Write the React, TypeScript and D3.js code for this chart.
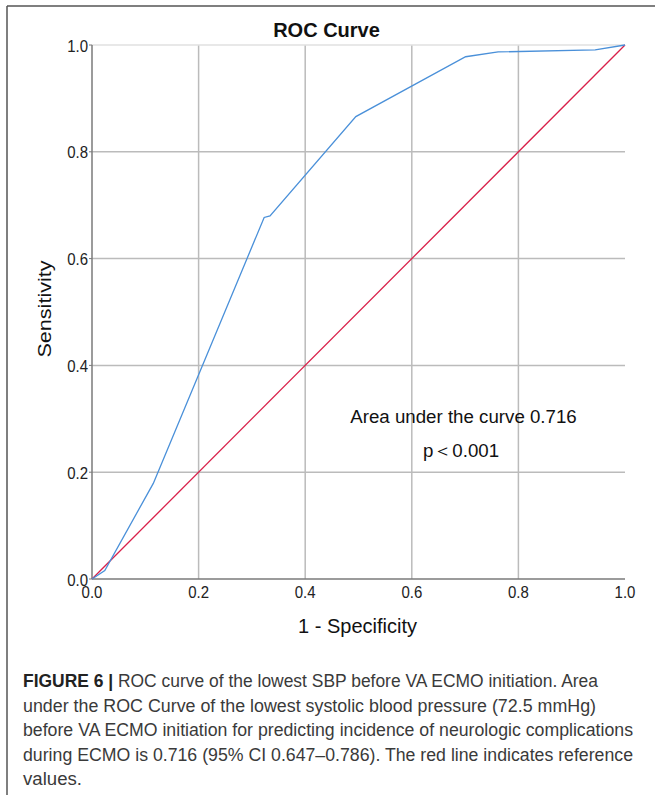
import React from "react";
import * as d3 from "d3";

// ROC curve points (1 - specificity, sensitivity)
const specificityComp = [0, 0.024, 0.115, 0.323, 0.334, 0.495, 0.701, 0.762, 0.944, 1];
const sensitivity = [0, 0.016, 0.179, 0.677, 0.68, 0.866, 0.978, 0.987, 0.991, 1];
const referenceLine = [0, 1];
const tickValues = [0, 0.2, 0.4, 0.6, 0.8, 1.0];
const tickLabels = ["0.0", "0.2", "0.4", "0.6", "0.8", "1.0"];

const captionLines = [
  "ROC curve of the lowest SBP before VA ECMO initiation. Area",
  "under the ROC Curve of the lowest systolic blood pressure (72.5 mmHg)",
  "before VA ECMO initiation for predicting incidence of neurologic complications",
  "during ECMO is 0.716 (95% CI 0.647\u20130.786). The red line indicates reference",
  "values.",
];
const captionEnds = [598, 596, 633, 633, 82];

const font = "'Liberation Sans', Arial, sans-serif";

const App = () => {
  // Plot area
  const left = 92;
  const right = 625;
  const top = 45;
  const bottom = 579;

  const x = d3.scaleLinear().domain([0, 1]).range([left, right]);
  const y = d3.scaleLinear().domain([0, 1]).range([bottom, top]);

  const rocPoints: [number, number][] = specificityComp.map((v, i) => [v, sensitivity[i]]);
  const refPoints: [number, number][] = referenceLine.map((v) => [v, v]);

  const line = d3
    .line<[number, number]>()
    .x((d) => x(d[0]))
    .y((d) => y(d[1]));

  const captionX = 23;
  const captionY0 = 687;
  const captionStep = 24.5;

  return (
    <svg
      width={655}
      height={795}
      style={{ position: "absolute", left: 0, top: 0, background: "#fff" }}
      fontFamily={font}
    >
      {/* figure frame (top + left) */}
      <line x1={7} x2={655} y1={6} y2={6} stroke="#555" strokeWidth={1.5} />
      <line x1={7} x2={7} y1={6} y2={795} stroke="#555" strokeWidth={1.5} />

      {/* title */}
      <text x={326.5} y={37} textAnchor="middle" fontSize={20} fontWeight="bold" fill="#111">
        ROC Curve
      </text>

      {/* gridlines */}
      {tickValues.slice(1, -1).map((t) => (
        <line key={"gx" + t} x1={x(t)} x2={x(t)} y1={top} y2={bottom} stroke="#bbb" strokeWidth={1.5} />
      ))}
      {tickValues.slice(1).map((t) => (
        <line
          key={"gy" + t}
          x1={left}
          x2={right}
          y1={y(t)}
          y2={y(t)}
          stroke={t === 1 ? "#e0e0e0" : "#bbb"}
          strokeWidth={1.5}
        />
      ))}

      {/* axes */}
      <line x1={left} x2={left} y1={top} y2={bottom} stroke="#7a7a7a" strokeWidth={1.5} />
      <line x1={left} x2={right} y1={bottom} y2={bottom} stroke="#7a7a7a" strokeWidth={1.5} />
      {tickValues.map((t) => (
        <line key={"ty" + t} x1={left - 3} x2={left} y1={y(t)} y2={y(t)} stroke="#7a7a7a" strokeWidth={1} />
      ))}

      {/* y tick labels */}
      {tickValues.map((t, i) => (
        <text
          key={"ly" + t}
          transform={`translate(88,${y(t) + 6.5}) scale(1,1.1)`}
          textAnchor="end"
          fontSize={15}
          fill="#222"
        >
          {tickLabels[i]}
        </text>
      ))}
      {/* x tick labels */}
      {tickValues.map((t, i) => (
        <text
          key={"lx" + t}
          transform={`translate(${x(t)},598) scale(1,1.1)`}
          textAnchor="middle"
          fontSize={15}
          fill="#222"
        >
          {tickLabels[i]}
        </text>
      ))}

      {/* axis titles */}
      <text x={357.5} y={633} textAnchor="middle" fontSize={20} fill="#111">
        1 - Specificity
      </text>
      <text
        transform="translate(51,309) rotate(-90)"
        textAnchor="middle"
        fontSize={19}
        fill="#111"
        textLength={97}
        lengthAdjust="spacingAndGlyphs"
      >
        Sensitivity
      </text>

      {/* curves */}
      <path d={line(refPoints) || ""} fill="none" stroke="#d9204a" strokeWidth={1.3} />
      <path d={line(rocPoints) || ""} fill="none" stroke="#4a90d9" strokeWidth={1.3} />

      {/* annotation */}
      <text x={463.5} y={423} textAnchor="middle" fontSize={18.7} fill="#111">
        Area under the curve 0.716
      </text>
      <text x={461} y={457} textAnchor="middle" fontSize={18.7} fill="#111">
        p＜0.001
      </text>

      {/* caption */}
      {captionLines.map((s, i) => (
        <text
          key={"c" + i}
          x={captionX}
          y={captionY0 + i * captionStep}
          fontSize={17.5}
          fill="#3a3a3a"
          textLength={captionEnds[i] - captionX}
          lengthAdjust="spacingAndGlyphs"
        >
          {i === 0 ? (
            <>
              <tspan fontWeight="bold" fill="#222">FIGURE 6 | </tspan>
              {s}
            </>
          ) : (
            s
          )}
        </text>
      ))}
    </svg>
  );
};

export default App;
